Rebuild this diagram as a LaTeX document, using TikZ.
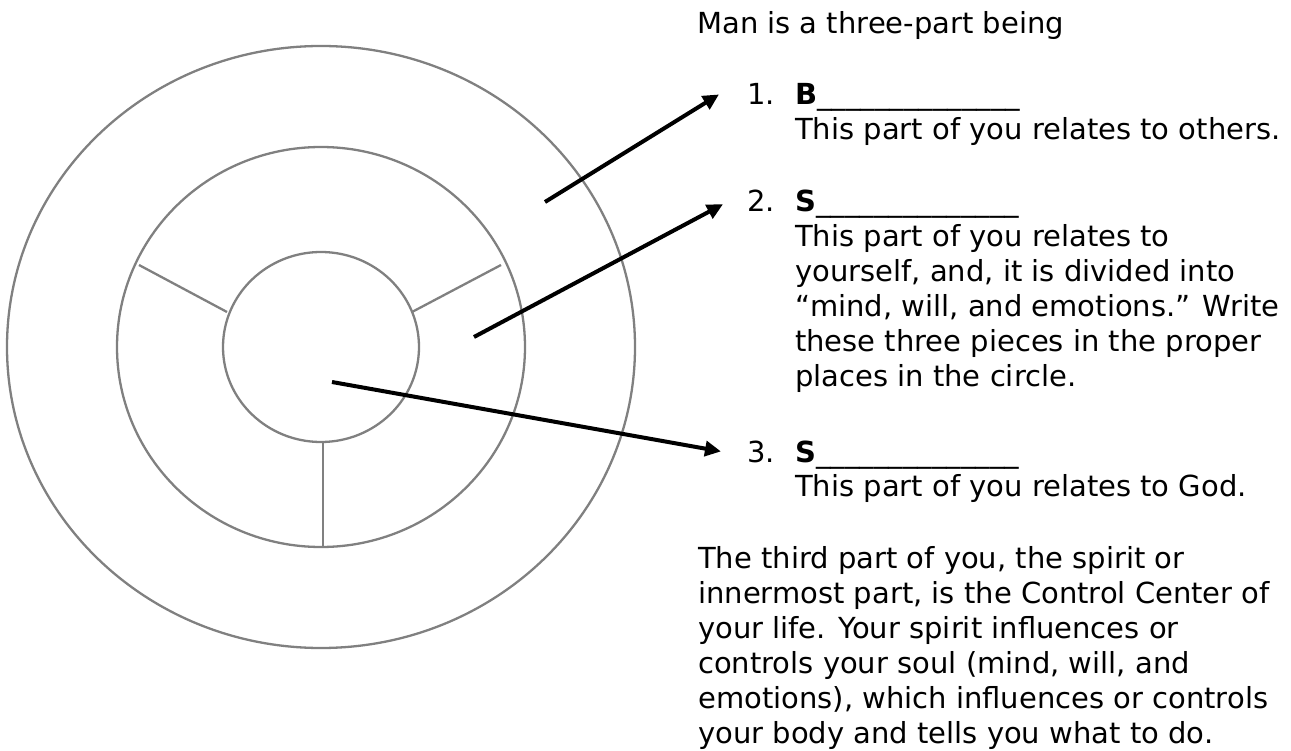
\documentclass[tikz,border=0pt]{standalone}
\usepackage{fontspec}
\setmainfont{DejaVu Sans}
\usetikzlibrary{arrows.meta,calc}
\definecolor{ringgray}{RGB}{128,128,128}

\begin{document}
\begin{tikzpicture}[x=1pt, y=-1pt,
  ring/.style={draw=ringgray, line width=2.3pt},
  pointer/.style={line width=4pt, -{Triangle[length=16pt,width=15pt]}},
  txt/.style={anchor=base west, inner sep=0pt, font=\fontsize{29}{35}\selectfont}]
  \useasboundingbox (0,0) rectangle (1291,751);
  \coordinate (O) at (321,347);
  % three rings
  \draw[ring] (O) ellipse [x radius=314, y radius=301];
  \draw[ring] (O) ellipse [x radius=204, y radius=200];
  \draw[ring] (O) ellipse [x radius=98, y radius=95];
  % mind, will, emotions
  \draw[ring] (139,265) -- (227,312);
  \draw[ring] (501,265) -- (412,312);
  \draw[ring] (323,442) -- (323,548);

  \node[txt] (title) at (697,34) {Man is a three-part being};
  \node[txt] (n1) at (747,105) {1.};
  \node[txt] (b1) at (795,105) {\textbf{B}\_\_\_\_\_\_\_\_\_\_\_\_\_\_};
  \node[txt] (d1) at (795,140) {This part of you relates to others.};
  \node[txt] (n2) at (747,212) {2.};
  \node[txt] (b2) at (795,212) {\textbf{S}\_\_\_\_\_\_\_\_\_\_\_\_\_\_};
  \foreach \words [count=\i] in {{This part of you relates to},
      {yourself, and, it is divided into},
      {“mind, will, and emotions.” Write},
      {these three pieces in the proper},
      {places in the circle.}}
    \node[txt] (d2\i) at (795,212+35*\i) {\words};
  \node[txt] (n3) at (747,462) {3.};
  \node[txt] (b3) at (795,462) {\textbf{S}\_\_\_\_\_\_\_\_\_\_\_\_\_\_};
  \node[txt] (d3) at (795,496) {This part of you relates to God.};
  \foreach \words [count=\i from 0] in {{The third part of you, the spirit or},
      {innermost part, is the Control Center of},
      {your life. Your spirit influences or},
      {controls your soul (mind, will, and},
      {emotions), which influences or controls},
      {your body and tells you what to do.}}
    \node[txt] (p\i) at (698,568+35*\i) {\words};

  % pointers
  \coordinate (bodypt) at (545,202);
  \coordinate (soulpt) at (474,337);
  \coordinate (spiritpt) at (332,382);
  \draw[pointer] (bodypt) -- ($(n1.west)+(-28,0)$);
  \draw[pointer] (soulpt) -- ($(n2.west)+(-24,3)$);
  \draw[pointer] (spiritpt) -- ($(n3.west)+(-26,0)$);
\end{tikzpicture}
\end{document}
